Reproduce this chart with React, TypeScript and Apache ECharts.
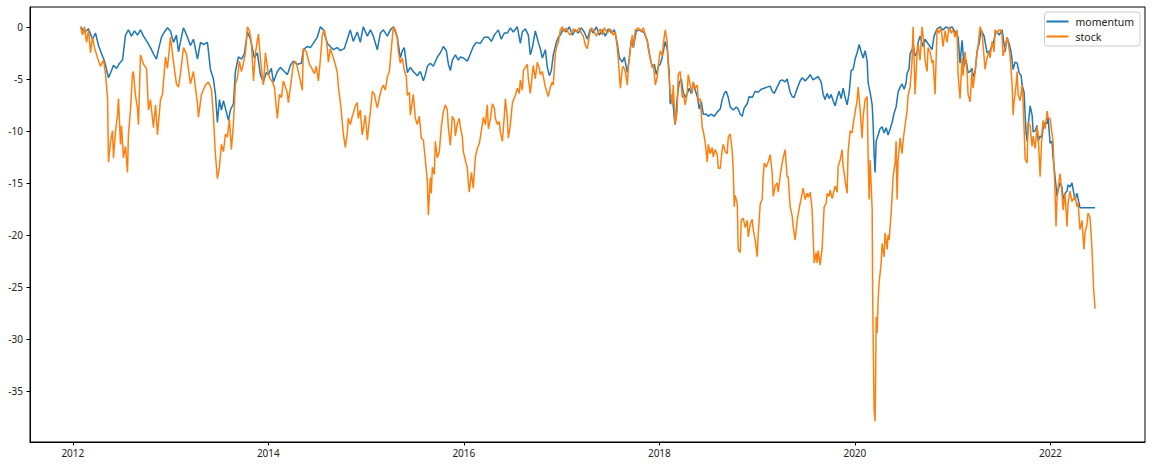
import { useEffect, useRef } from "react";
import * as echarts from "echarts";

const xTicks = [2012, 2014, 2016, 2018, 2020, 2022];
const yTicks = [0, -5, -10, -15, -20, -25, -30, -35];

// [decimal year, drawdown %]
const momentum: [number, number][] = [
  [2012.079, 0], [2012.12, -0.5], [2012.161, -0.2], [2012.201, -1.2], [2012.232, -0.6], [2012.263, -1.8],
  [2012.294, -2.6], [2012.324, -3.3], [2012.365, -4.9], [2012.396, -4.2], [2012.416, -3.7], [2012.447, -4.0],
  [2012.478, -3.5], [2012.508, -3.2], [2012.539, -0.8], [2012.569, -0.3], [2012.6, -0.9], [2012.631, -0.4],
  [2012.661, -0.8], [2012.692, -0.3], [2012.723, -0.9], [2012.764, -1.5], [2012.794, -2.0], [2012.825, -2.6],
  [2012.856, -3.1], [2012.876, -2.2], [2012.907, -1.0], [2012.937, -0.5], [2012.968, -0.1], [2012.999, -0.4],
  [2013.03, -1.5], [2013.06, -0.8], [2013.081, -2.4], [2013.111, -1.0], [2013.132, -0.1], [2013.173, -1.0],
  [2013.203, -1.8], [2013.234, -1.2], [2013.275, -3.1], [2013.306, -1.5], [2013.336, -1.7], [2013.377, -1.5],
  [2013.408, -4.1], [2013.438, -5.0], [2013.459, -6.5], [2013.479, -9.2], [2013.5, -7.0], [2013.52, -8.0],
  [2013.541, -7.1], [2013.571, -8.2], [2013.592, -9.0], [2013.612, -8.0], [2013.643, -7.4], [2013.663, -4.3],
  [2013.694, -2.9], [2013.725, -3.1], [2013.755, -2.6], [2013.786, -0.5], [2013.817, -1.2], [2013.858, -3.0],
  [2013.888, -2.5], [2013.919, -4.6], [2013.949, -5.3], [2013.98, -4.4], [2014.001, -4.6], [2014.031, -4.0],
  [2014.052, -5.3], [2014.093, -4.3], [2014.123, -3.9], [2014.154, -4.2], [2014.195, -4.6], [2014.226, -3.7],
  [2014.256, -3.3], [2014.297, -3.6], [2014.338, -3.5], [2014.358, -2.2], [2014.399, -1.9], [2014.43, -2.0],
  [2014.46, -1.6], [2014.501, -1.0], [2014.532, 0], [2014.563, -0.3], [2014.604, -1.6], [2014.634, -1.9],
  [2014.665, -2.2], [2014.706, -2.0], [2014.736, -2.3], [2014.777, -2.1], [2014.808, -1.2], [2014.838, -0.3],
  [2014.869, -1.4], [2014.91, -0.5], [2014.941, -1.5], [2014.971, 0], [2015.013, -0.9], [2015.044, -0.3],
  [2015.074, -0.9], [2015.115, -2.2], [2015.146, -0.6], [2015.177, -0.3], [2015.218, -0.9], [2015.248, -0.3],
  [2015.279, 0], [2015.32, -1.0], [2015.35, -3.0], [2015.371, -2.3], [2015.391, -2.0], [2015.422, -4.4],
  [2015.453, -3.9], [2015.483, -4.3], [2015.524, -4.7], [2015.555, -4.3], [2015.586, -5.2], [2015.606, -4.6],
  [2015.627, -3.8], [2015.657, -3.5], [2015.688, -3.8], [2015.729, -2.9], [2015.76, -2.5], [2015.791, -1.9],
  [2015.821, -2.3], [2015.842, -3.6], [2015.862, -4.2], [2015.883, -3.2], [2015.913, -2.7], [2015.944, -3.2],
  [2015.965, -2.9], [2015.995, -3.0], [2016.036, -3.3], [2016.067, -2.6], [2016.097, -1.9], [2016.128, -1.5],
  [2016.169, -1.6], [2016.21, -1.0], [2016.251, -1.0], [2016.281, -1.4], [2016.312, -0.8], [2016.353, -0.3],
  [2016.383, -1.2], [2016.414, -0.6], [2016.445, -0.6], [2016.476, -0.1], [2016.506, -0.5], [2016.547, 0],
  [2016.578, -1.6], [2016.598, -0.5], [2016.629, -0.2], [2016.66, -0.8], [2016.68, -2.7], [2016.701, -2.0],
  [2016.731, -0.4], [2016.762, -1.5], [2016.782, -2.1], [2016.803, -3.0], [2016.834, -2.2], [2016.854, -3.9],
  [2016.875, -4.7], [2016.895, -4.2], [2016.915, -2.7], [2016.946, -1.5], [2016.967, -1.0], [2016.987, -0.8],
  [2017.017, -0.2], [2017.048, -0.5], [2017.079, 0], [2017.11, -0.8], [2017.14, -0.3], [2017.171, -0.6],
  [2017.202, -0.1], [2017.232, -0.5], [2017.263, -1.2], [2017.294, -0.2], [2017.325, -0.6], [2017.355, 0],
  [2017.386, -0.8], [2017.417, -0.3], [2017.447, -0.9], [2017.478, -0.2], [2017.509, -0.6], [2017.54, -0.3],
  [2017.57, -1.6], [2017.591, -3.0], [2017.621, -3.4], [2017.642, -2.9], [2017.672, -4.4], [2017.693, -3.0],
  [2017.713, -1.3], [2017.734, -2.0], [2017.764, -0.4], [2017.805, -0.3], [2017.846, -0.6], [2017.877, -1.4],
  [2017.908, -3.1], [2017.928, -3.9], [2017.949, -3.6], [2017.969, -4.6], [2017.99, -3.8], [2018.009, -3.6],
  [2018.03, -2.9], [2018.06, -1.4], [2018.081, -2.2], [2018.101, -4.4], [2018.111, -7.4], [2018.132, -6.5],
  [2018.152, -8.7], [2018.162, -9.4], [2018.183, -6.8], [2018.203, -5.4], [2018.224, -5.0], [2018.244, -6.3],
  [2018.265, -6.8], [2018.285, -6.4], [2018.306, -5.9], [2018.326, -6.4], [2018.347, -5.4], [2018.367, -6.1],
  [2018.388, -6.7], [2018.408, -7.9], [2018.429, -7.2], [2018.449, -8.4], [2018.48, -8.4], [2018.5, -8.6],
  [2018.531, -8.4], [2018.562, -8.6], [2018.592, -8.2], [2018.623, -7.9], [2018.643, -7.0], [2018.664, -6.4],
  [2018.684, -6.2], [2018.705, -6.8], [2018.725, -7.7], [2018.756, -8.0], [2018.787, -7.7], [2018.807, -7.9],
  [2018.827, -8.4], [2018.848, -8.6], [2018.868, -7.8], [2018.899, -7.4], [2018.919, -6.7], [2018.95, -6.8],
  [2018.981, -6.2], [2019.011, -6.3], [2019.042, -6.0], [2019.072, -5.9], [2019.103, -5.8], [2019.134, -5.7],
  [2019.154, -6.2], [2019.175, -6.4], [2019.205, -5.8], [2019.236, -5.2], [2019.256, -5.1], [2019.287, -5.3],
  [2019.307, -5.0], [2019.338, -6.3], [2019.359, -6.7], [2019.379, -6.8], [2019.4, -6.2], [2019.42, -5.7],
  [2019.44, -5.2], [2019.461, -4.9], [2019.492, -5.2], [2019.522, -4.9], [2019.543, -4.6], [2019.573, -5.1],
  [2019.604, -4.9], [2019.625, -4.8], [2019.655, -5.3], [2019.676, -6.5], [2019.696, -7.0], [2019.716, -6.4],
  [2019.737, -6.9], [2019.757, -6.5], [2019.778, -7.1], [2019.798, -7.6], [2019.819, -6.8], [2019.839, -6.2],
  [2019.86, -6.9], [2019.88, -5.9], [2019.901, -6.8], [2019.921, -7.5], [2019.942, -6.3], [2019.962, -4.2],
  [2019.982, -4.1], [2020.003, -3.1], [2020.023, -2.5], [2020.044, -1.7], [2020.064, -2.4], [2020.085, -3.0],
  [2020.105, -2.3], [2020.126, -3.3], [2020.136, -5.4], [2020.156, -6.3], [2020.177, -7.5], [2020.187, -9.4],
  [2020.197, -12.3], [2020.207, -14.0], [2020.218, -11.0], [2020.238, -10.4], [2020.258, -9.8], [2020.279, -9.6],
  [2020.299, -10.2], [2020.32, -9.7], [2020.34, -10.4], [2020.361, -9.8], [2020.381, -9.2], [2020.401, -8.3],
  [2020.422, -7.7], [2020.442, -6.3], [2020.463, -5.8], [2020.483, -5.5], [2020.504, -6.0], [2020.524, -5.4],
  [2020.534, -4.5], [2020.555, -4.0], [2020.565, -2.6], [2020.585, -2.2], [2020.596, -1.7], [2020.616, -2.8],
  [2020.636, -2.5], [2020.647, -1.5], [2020.667, -0.9], [2020.698, -1.9], [2020.718, -1.2], [2020.739, -1.5],
  [2020.769, -1.9], [2020.79, -2.2], [2020.81, -0.9], [2020.841, -0.2], [2020.872, 0], [2020.902, -0.3],
  [2020.933, 0], [2020.964, -0.2], [2020.994, 0], [2021.025, -0.5], [2021.056, -1.0], [2021.076, -3.5],
  [2021.097, -1.3], [2021.117, -3.8], [2021.138, -3.2], [2021.158, -4.4], [2021.179, -4.3], [2021.199, -4.0],
  [2021.209, -4.8], [2021.23, -4.3], [2021.25, -2.4], [2021.271, -1.6], [2021.291, -0.3], [2021.322, -0.9],
  [2021.352, -2.5], [2021.383, -2.3], [2021.414, -1.6], [2021.445, -0.4], [2021.475, -0.8], [2021.506, -0.3],
  [2021.537, -2.4], [2021.557, -1.0], [2021.578, -1.6], [2021.598, -2.4], [2021.619, -4.1], [2021.639, -3.4],
  [2021.66, -3.5], [2021.68, -4.4], [2021.701, -4.7], [2021.711, -5.6], [2021.731, -6.3], [2021.742, -8.5],
  [2021.752, -10.2], [2021.762, -11.0], [2021.772, -9.6], [2021.793, -7.6], [2021.813, -8.5], [2021.824, -10.1],
  [2021.844, -10.0], [2021.864, -9.5], [2021.875, -11.0], [2021.895, -10.5], [2021.915, -10.7], [2021.926, -9.6],
  [2021.946, -9.2], [2021.967, -9.3], [2021.977, -8.7], [2021.997, -11.2], [2022.017, -11.0], [2022.027, -12.5],
  [2022.048, -14.4], [2022.068, -16.3], [2022.079, -15.7], [2022.099, -15.0], [2022.119, -15.4], [2022.13, -16.6],
  [2022.15, -16.0], [2022.17, -15.8], [2022.181, -15.2], [2022.201, -15.4], [2022.221, -15.0], [2022.232, -15.6],
  [2022.252, -16.6], [2022.273, -16.0], [2022.283, -16.5], [2022.303, -17.4], [2022.324, -17.4], [2022.39, -17.4],
  [2022.457, -17.4],
];

const stock: [number, number][] = [
  [2012.079, 0], [2012.099, -0.8], [2012.12, 0], [2012.14, -1.5], [2012.161, -0.3], [2012.181, -2.5],
  [2012.201, -1.0], [2012.222, -2.0], [2012.253, -3.0], [2012.283, -3.8], [2012.314, -3.2], [2012.334, -4.5],
  [2012.355, -6.8], [2012.365, -13.0], [2012.386, -11.0], [2012.406, -10.0], [2012.416, -12.6], [2012.437, -10.0],
  [2012.457, -8.5], [2012.467, -6.9], [2012.488, -11.3], [2012.498, -9.5], [2012.518, -12.6], [2012.539, -11.5],
  [2012.559, -14.0], [2012.569, -10.3], [2012.59, -8.0], [2012.61, -4.6], [2012.62, -4.3], [2012.641, -6.6],
  [2012.661, -7.8], [2012.672, -9.4], [2012.692, -2.7], [2012.723, -3.6], [2012.754, -4.0], [2012.774, -8.0],
  [2012.794, -7.0], [2012.825, -9.7], [2012.846, -7.5], [2012.866, -10.4], [2012.897, -7.0], [2012.917, -6.5],
  [2012.948, -2.9], [2012.968, -4.0], [2012.999, -1.0], [2013.03, -3.4], [2013.06, -5.5], [2013.081, -5.8],
  [2013.101, -4.5], [2013.132, -2.0], [2013.162, -2.6], [2013.203, -5.5], [2013.234, -4.3], [2013.275, -7.4],
  [2013.285, -8.7], [2013.316, -6.5], [2013.357, -5.6], [2013.387, -5.3], [2013.418, -6.0], [2013.438, -8.5],
  [2013.459, -12.3], [2013.479, -14.6], [2013.5, -13.5], [2013.52, -11.3], [2013.541, -12.0], [2013.561, -10.3],
  [2013.581, -10.6], [2013.602, -8.9], [2013.622, -11.8], [2013.643, -9.3], [2013.663, -5.5], [2013.684, -4.9],
  [2013.704, -3.3], [2013.725, -4.3], [2013.745, -3.5], [2013.766, -2.5], [2013.786, 0], [2013.807, -0.4],
  [2013.827, -1.5], [2013.848, -5.2], [2013.868, -2.5], [2013.899, -0.7], [2013.919, -3.0], [2013.939, -4.9],
  [2013.95, -5.6], [2013.97, -2.5], [2014.001, -4.6], [2014.021, -5.0], [2014.042, -5.3], [2014.062, -5.8],
  [2014.072, -6.8], [2014.093, -8.8], [2014.113, -6.5], [2014.134, -6.8], [2014.154, -5.2], [2014.175, -5.8],
  [2014.195, -6.4], [2014.205, -7.3], [2014.226, -5.8], [2014.256, -3.6], [2014.277, -3.3], [2014.297, -3.9],
  [2014.328, -5.2], [2014.348, -6.1], [2014.358, -2.1], [2014.389, -2.4], [2014.42, -3.6], [2014.44, -3.9],
  [2014.471, -4.5], [2014.491, -3.8], [2014.512, -5.2], [2014.532, -3.2], [2014.552, -0.8], [2014.573, -0.3],
  [2014.593, -1.3], [2014.604, -2.1], [2014.614, -3.4], [2014.634, -2.1], [2014.665, -3.0], [2014.685, -3.6],
  [2014.706, -4.4], [2014.716, -5.7], [2014.736, -7.2], [2014.747, -8.2], [2014.767, -10.3], [2014.788, -11.6],
  [2014.808, -10.2], [2014.818, -8.8], [2014.839, -9.4], [2014.859, -8.6], [2014.869, -8.3], [2014.89, -7.6],
  [2014.91, -7.3], [2014.92, -8.8], [2014.941, -8.0], [2014.961, -10.4], [2014.971, -9.8], [2014.992, -8.5],
  [2015.013, -10.9], [2015.033, -9.0], [2015.044, -8.2], [2015.064, -6.2], [2015.085, -6.5], [2015.105, -7.4],
  [2015.115, -7.8], [2015.136, -6.8], [2015.156, -6.0], [2015.177, -5.6], [2015.197, -6.1], [2015.218, -4.8],
  [2015.238, -4.3], [2015.259, -2.0], [2015.279, 0], [2015.3, -0.3], [2015.32, -1.2], [2015.33, -2.4],
  [2015.351, -3.5], [2015.371, -3.0], [2015.391, -4.2], [2015.412, -4.8], [2015.422, -6.6], [2015.443, -6.3],
  [2015.453, -8.5], [2015.473, -7.2], [2015.483, -6.5], [2015.504, -8.8], [2015.524, -9.4], [2015.545, -8.6],
  [2015.565, -10.7], [2015.586, -10.9], [2015.606, -12.8], [2015.627, -14.9], [2015.637, -18.1], [2015.657, -14.5],
  [2015.667, -16.0], [2015.678, -13.5], [2015.698, -14.2], [2015.708, -11.0], [2015.729, -12.6], [2015.749, -12.0],
  [2015.77, -9.6], [2015.79, -8.2], [2015.811, -7.5], [2015.831, -8.0], [2015.841, -9.6], [2015.862, -11.4],
  [2015.882, -8.6], [2015.903, -9.0], [2015.913, -10.5], [2015.934, -9.3], [2015.954, -8.8], [2015.964, -9.6],
  [2015.985, -10.6], [2015.995, -12.0], [2016.015, -12.8], [2016.036, -13.6], [2016.046, -15.0], [2016.056, -15.9],
  [2016.077, -14.0], [2016.097, -15.5], [2016.118, -12.5], [2016.138, -11.7], [2016.159, -11.2], [2016.179, -10.0],
  [2016.2, -8.7], [2016.22, -9.4], [2016.24, -7.5], [2016.251, -9.8], [2016.271, -8.9], [2016.292, -7.4],
  [2016.312, -7.8], [2016.322, -8.8], [2016.343, -9.4], [2016.363, -9.1], [2016.373, -10.1], [2016.394, -11.0],
  [2016.414, -8.6], [2016.425, -6.9], [2016.445, -8.8], [2016.455, -10.7], [2016.476, -9.4], [2016.496, -7.4],
  [2016.517, -6.8], [2016.527, -6.6], [2016.547, -5.9], [2016.568, -6.4], [2016.578, -5.1], [2016.598, -6.1],
  [2016.609, -4.2], [2016.629, -3.9], [2016.65, -3.6], [2016.66, -5.0], [2016.68, -6.4], [2016.701, -4.5],
  [2016.711, -3.7], [2016.731, -5.0], [2016.752, -3.4], [2016.772, -4.0], [2016.782, -4.6], [2016.803, -4.3],
  [2016.813, -4.8], [2016.834, -5.8], [2016.854, -6.4], [2016.864, -6.7], [2016.885, -5.8], [2016.905, -5.3],
  [2016.915, -5.6], [2016.936, -2.6], [2016.946, -2.0], [2016.967, -1.5], [2016.987, -0.3], [2017.007, 0],
  [2017.028, -0.5], [2017.048, -0.1], [2017.069, -0.6], [2017.089, -0.8], [2017.12, -0.2], [2017.151, -0.5],
  [2017.181, -0.1], [2017.202, -0.6], [2017.222, -0.9], [2017.243, -1.8], [2017.263, -2.1], [2017.284, -0.9],
  [2017.304, -0.1], [2017.325, -0.3], [2017.355, -0.9], [2017.376, -0.5], [2017.396, -0.2], [2017.417, -0.8],
  [2017.437, -0.1], [2017.468, -0.6], [2017.498, -0.2], [2017.529, -0.8], [2017.55, -0.5], [2017.57, -2.1],
  [2017.58, -3.1], [2017.601, -5.9], [2017.621, -4.0], [2017.631, -3.8], [2017.652, -4.3], [2017.672, -5.6],
  [2017.682, -4.0], [2017.703, -2.1], [2017.723, -0.8], [2017.734, -2.0], [2017.754, -0.3], [2017.785, -0.1],
  [2017.815, -0.5], [2017.836, -0.1], [2017.856, -0.8], [2017.877, -1.3], [2017.887, -2.1], [2017.908, -3.1],
  [2017.928, -3.9], [2017.938, -3.6], [2017.959, -5.6], [2017.979, -4.8], [2017.989, -3.7], [2018.009, -2.3],
  [2018.03, -2.8], [2018.04, -1.7], [2018.06, -0.3], [2018.081, -1.5], [2018.091, -3.7], [2018.111, -6.3],
  [2018.132, -7.5], [2018.142, -5.6], [2018.162, -9.4], [2018.183, -8.0], [2018.193, -4.6], [2018.213, -4.3],
  [2018.234, -6.8], [2018.244, -6.4], [2018.265, -7.5], [2018.285, -6.4], [2018.295, -4.6], [2018.316, -5.6],
  [2018.336, -6.4], [2018.346, -5.3], [2018.367, -5.9], [2018.388, -5.6], [2018.398, -7.2], [2018.418, -6.9],
  [2018.439, -9.7], [2018.449, -10.0], [2018.469, -11.1], [2018.49, -13.0], [2018.5, -11.3], [2018.521, -12.2],
  [2018.541, -11.6], [2018.551, -12.5], [2018.572, -11.8], [2018.592, -12.3], [2018.603, -13.6], [2018.623, -13.6],
  [2018.643, -11.8], [2018.654, -11.3], [2018.674, -12.0], [2018.694, -12.2], [2018.705, -10.6], [2018.725, -10.3],
  [2018.746, -12.0], [2018.756, -13.8], [2018.766, -17.3], [2018.776, -16.2], [2018.797, -17.0], [2018.807, -21.4],
  [2018.827, -21.7], [2018.838, -18.6], [2018.858, -18.4], [2018.879, -19.3], [2018.899, -18.6], [2018.909, -20.2],
  [2018.93, -19.0], [2018.95, -18.5], [2018.96, -19.5], [2018.981, -20.5], [2019.001, -22.1], [2019.011, -20.0],
  [2019.032, -17.0], [2019.052, -16.6], [2019.062, -14.4], [2019.073, -13.1], [2019.093, -13.5], [2019.113, -13.0],
  [2019.134, -12.3], [2019.154, -14.0], [2019.165, -16.3], [2019.185, -15.3], [2019.205, -15.0], [2019.216, -15.9],
  [2019.236, -14.3], [2019.256, -13.1], [2019.267, -12.6], [2019.287, -11.8], [2019.307, -14.4], [2019.318, -14.4],
  [2019.338, -17.3], [2019.359, -18.2], [2019.369, -19.2], [2019.389, -20.5], [2019.41, -18.6], [2019.42, -18.0],
  [2019.44, -17.0], [2019.461, -16.0], [2019.471, -15.5], [2019.492, -16.6], [2019.512, -16.0], [2019.522, -16.4],
  [2019.543, -15.9], [2019.563, -17.6], [2019.573, -20.2], [2019.584, -22.7], [2019.604, -21.7], [2019.614, -22.7],
  [2019.625, -21.5], [2019.645, -22.9], [2019.665, -21.3], [2019.676, -19.2], [2019.686, -17.3], [2019.706, -17.0],
  [2019.717, -16.0], [2019.737, -16.3], [2019.747, -15.7], [2019.768, -16.5], [2019.788, -15.7], [2019.798, -15.3],
  [2019.819, -15.9], [2019.829, -13.4], [2019.85, -12.8], [2019.87, -11.8], [2019.88, -13.4], [2019.901, -14.8],
  [2019.921, -16.0], [2019.931, -12.0], [2019.952, -10.0], [2019.972, -10.2], [2019.982, -9.4], [2020.003, -8.2],
  [2020.023, -7.1], [2020.034, -5.8], [2020.054, -8.0], [2020.074, -10.7], [2020.085, -8.6], [2020.105, -7.0],
  [2020.126, -6.7], [2020.136, -12.6], [2020.146, -16.6], [2020.156, -12.8], [2020.166, -15.0], [2020.177, -17.6],
  [2020.182, -25.3], [2020.187, -29.8], [2020.197, -36.8], [2020.207, -37.9], [2020.212, -34.2], [2020.218, -27.9],
  [2020.228, -29.4], [2020.238, -26.2], [2020.248, -24.6], [2020.258, -23.7], [2020.269, -22.7], [2020.279, -20.8],
  [2020.289, -21.5], [2020.299, -22.1], [2020.309, -19.8], [2020.33, -21.4], [2020.34, -20.0], [2020.35, -20.5],
  [2020.361, -19.2], [2020.371, -17.9], [2020.381, -16.3], [2020.391, -14.4], [2020.412, -13.1], [2020.422, -11.0],
  [2020.432, -16.6], [2020.442, -12.9], [2020.463, -10.7], [2020.483, -12.2], [2020.493, -11.0], [2020.514, -9.4],
  [2020.534, -8.1], [2020.544, -6.6], [2020.565, -5.8], [2020.585, -3.3], [2020.596, 0], [2020.616, -6.5],
  [2020.636, -2.6], [2020.647, -1.7], [2020.667, -3.2], [2020.687, 0], [2020.708, -1.7], [2020.718, -3.2],
  [2020.739, -4.3], [2020.749, -2.0], [2020.769, -2.4], [2020.79, -3.5], [2020.8, -3.2], [2020.82, -6.5],
  [2020.841, -0.2], [2020.861, -0.6], [2020.882, -0.1], [2020.902, -1.9], [2020.923, -0.4], [2020.943, -1.5],
  [2020.964, 0], [2020.984, -0.6], [2021.005, -0.3], [2021.025, -1.0], [2021.046, -0.3], [2021.056, -4.6],
  [2021.076, -6.9], [2021.097, -3.0], [2021.107, -4.7], [2021.127, -2.4], [2021.148, -4.3], [2021.158, -6.5],
  [2021.179, -7.2], [2021.199, -4.2], [2021.209, -5.9], [2021.23, -4.4], [2021.25, -2.4], [2021.261, -1.8],
  [2021.281, 0], [2021.301, -0.6], [2021.312, -1.8], [2021.332, -4.1], [2021.352, -3.0], [2021.373, -2.4],
  [2021.383, -3.0], [2021.404, -1.4], [2021.424, -2.4], [2021.434, -0.3], [2021.455, -0.6], [2021.475, -0.3],
  [2021.496, -0.3], [2021.506, -0.9], [2021.516, -2.8], [2021.537, -2.0], [2021.557, -1.0], [2021.568, -1.5],
  [2021.588, -2.8], [2021.609, -5.6], [2021.619, -8.5], [2021.629, -7.2], [2021.65, -5.5], [2021.66, -4.3],
  [2021.67, -6.5], [2021.691, -7.1], [2021.711, -5.6], [2021.721, -7.1], [2021.742, -12.7], [2021.762, -13.1],
  [2021.772, -9.2], [2021.793, -9.5], [2021.813, -11.5], [2021.824, -10.5], [2021.844, -11.7], [2021.864, -9.6],
  [2021.875, -10.4], [2021.895, -14.4], [2021.915, -10.0], [2021.926, -9.0], [2021.946, -9.8], [2021.967, -8.1],
  [2021.977, -8.8], [2021.997, -8.8], [2022.017, -10.3], [2022.027, -11.0], [2022.048, -16.0], [2022.058, -19.2],
  [2022.068, -16.5], [2022.079, -15.5], [2022.099, -14.1], [2022.119, -16.0], [2022.13, -17.6], [2022.15, -16.0],
  [2022.17, -19.2], [2022.181, -17.0], [2022.201, -15.8], [2022.221, -16.8], [2022.232, -16.6], [2022.252, -16.3],
  [2022.273, -17.3], [2022.283, -16.9], [2022.303, -19.5], [2022.324, -18.6], [2022.334, -20.2], [2022.344, -21.4],
  [2022.354, -19.8], [2022.375, -19.0], [2022.385, -17.9], [2022.405, -18.3], [2022.416, -19.8], [2022.426, -21.4],
  [2022.436, -23.7], [2022.441, -25.0], [2022.457, -27.1],
];

const FONT = "'Noto Sans', 'DejaVu Sans', sans-serif";

export default function App() {
  const ref = useRef<HTMLDivElement>(null);
  useEffect(() => {
    const chart = echarts.init(ref.current!, null, { renderer: "svg" });
    chart.setOption({
      animation: false,
      backgroundColor: "#ffffff",
      grid: {
        left: 30,
        right: 7,
        top: 7,
        bottom: 23,
        show: true,
        borderColor: "#000000",
        borderWidth: 1,
        backgroundColor: "transparent",
      },
      xAxis: {
        type: "value",
        min: 2011.562,
        max: 2022.968,
        splitLine: { show: false },
        axisLine: { show: true, onZero: false, lineStyle: { color: "#000", width: 1 } },
        axisTick: { show: true, customValues: xTicks, length: 3.5, lineStyle: { color: "#000" } },
        axisLabel: {
          customValues: xTicks,
          formatter: (v: number) => String(Math.round(v)),
          color: "#222",
          fontSize: 10,
          fontFamily: FONT,
          margin: 6,
        },
      },
      yAxis: {
        type: "value",
        min: -39.9,
        max: 1.9,
        splitLine: { show: false },
        axisLine: { show: true, onZero: false, lineStyle: { color: "#000", width: 1 } },
        axisTick: { show: true, customValues: yTicks, length: 3.5, lineStyle: { color: "#000" } },
        axisLabel: {
          customValues: yTicks,
          formatter: (v: number) => String(Math.round(v)),
          color: "#222",
          fontSize: 10,
          fontFamily: FONT,
          margin: 7,
        },
      },
      legend: {
        orient: "vertical",
        right: 12,
        top: 12,
        data: ["momentum", "stock"],
        icon: "rect",
        itemWidth: 22,
        itemHeight: 2,
        itemGap: 4,
        padding: [4, 6, 4, 2],
        borderColor: "#cccccc",
        borderWidth: 1,
        borderRadius: 3,
        backgroundColor: "rgba(255,255,255,0.8)",
        textStyle: { color: "#222", fontSize: 10.5, fontFamily: FONT, lineHeight: 10, padding: [0, 0, 0, 2] },
      },
      series: [
        {
          name: "momentum",
          type: "line",
          data: momentum,
          symbol: "none",
          showSymbol: false,
          lineStyle: { width: 1.5, color: "#1f77b4" },
          itemStyle: { color: "#1f77b4" },
        },
        {
          name: "stock",
          type: "line",
          data: stock,
          symbol: "none",
          showSymbol: false,
          lineStyle: { width: 1.5, color: "#ff7f0e" },
          itemStyle: { color: "#ff7f0e" },
        },
      ],
    });
    return () => chart.dispose();
  }, []);
  return (
    <div
      ref={ref}
      style={{ position: "fixed", left: 0, top: 0, width: 1152, height: 465 }}
    />
  );
}
